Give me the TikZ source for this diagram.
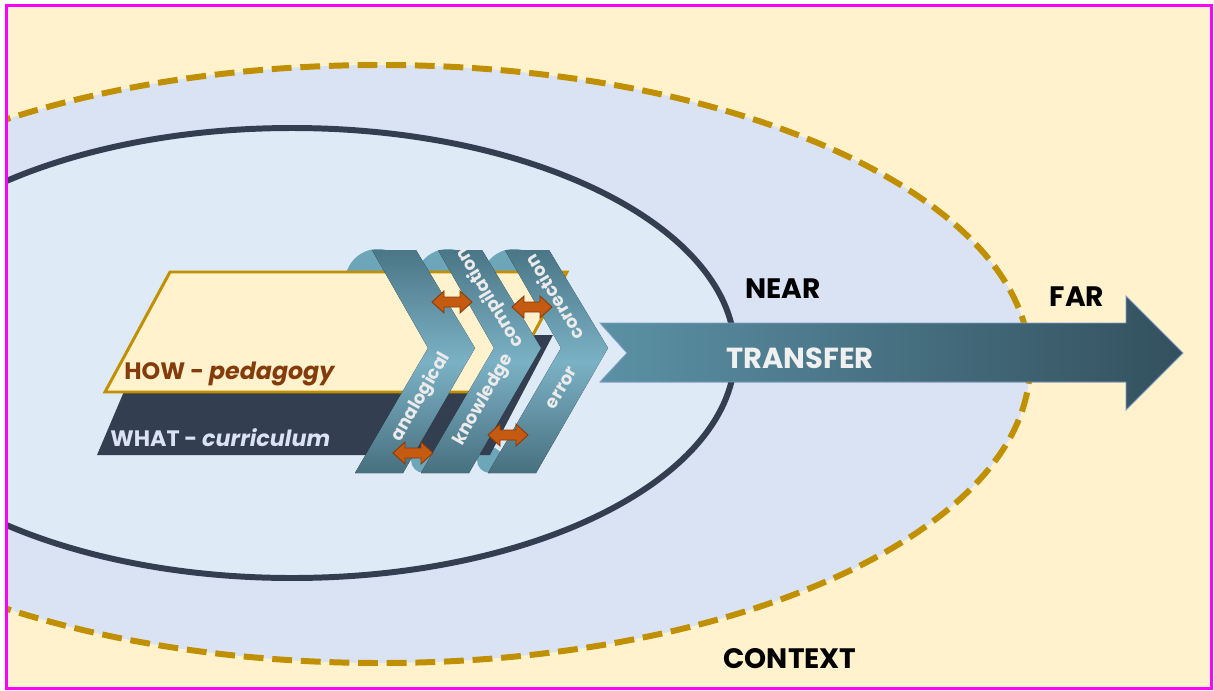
\documentclass[tikz,border=0pt]{standalone}
\usepackage{fontspec}
\setmainfont{Poppins}
\definecolor{cream}{HTML}{FFF2CC}
\definecolor{outerblue}{HTML}{DAE3F3}
\definecolor{innerblue}{HTML}{DEEAF6}
\definecolor{gold}{HTML}{C09000}
\definecolor{navy}{HTML}{333F50}
\definecolor{frame}{HTML}{FF00FF}
\definecolor{brownt}{HTML}{843C0C}
\definecolor{ltext}{HTML}{DAE3F3}
\definecolor{chevtop}{HTML}{4A7686}
\definecolor{chevmid}{HTML}{7BB1C5}
\definecolor{chevbot}{HTML}{48707F}
\definecolor{bump}{HTML}{6DA5B9}
\definecolor{orangea}{HTML}{C55A11}
\definecolor{orangeb}{HTML}{8A3A08}
\definecolor{trleft}{HTML}{5B91A5}
\definecolor{trright}{HTML}{33505E}
\definecolor{trline}{HTML}{7F9FC8}
\tikzset{
  chevron/.style={top color=chevtop, bottom color=chevbot, middle color=chevmid, draw=none},
  bumpc/.style={fill=bump, draw=none},
  chevlabel/.style={text=white!92!black, font=\bfseries\fontsize{10.2}{10.2}\selectfont, inner sep=0pt},
  biglabel/.style={text=black, font=\bfseries\fontsize{16}{16}\selectfont, inner sep=0pt},
  darrow/.pic={\filldraw[fill=orangea, draw=orangeb, line width=0.5pt]
     (-20,0) -- (-8,-11) -- (-8,-5) -- (8,-5) -- (8,-11) -- (20,0) -- (8,11) -- (8,5) -- (-8,5) -- (-8,11) -- cycle;}
}
\begin{document}
\begin{tikzpicture}[x=0.02cm,y=-0.02cm]
\useasboundingbox (0,0) rectangle (1214,690);
\fill[white] (0,0) rectangle (1214,690);
\fill[cream] (6.5,5.5) rectangle (1211.5,688.5);
\begin{scope}
  \clip (6.5,5.5) rectangle (1211.5,688.5);
  \fill[outerblue] (380,364) ellipse [x radius=650, y radius=299];
  \draw[gold, line width=3.4pt, dash pattern=on 11.3pt off 5pt] (380,364) ellipse [x radius=650, y radius=299];
  \filldraw[fill=innerblue, draw=navy, line width=3.4pt] (292,353) ellipse [x radius=443, y radius=225];
\end{scope}
\draw[frame, line width=1.7pt] (6.5,5.5) rectangle (1211.5,688.5);

% bumps behind chevrons
\fill[bumpc] (378,282) circle [radius=33];
\fill[bumpc] (448,282) circle [radius=33];
\fill[bumpc] (514,282) circle [radius=33];
\fill[bumpc] (424,460) circle [radius=13];
\fill[bumpc] (490,460) circle [radius=13];

% WHAT and HOW bands
\fill[navy] (148,335) -- (553,335) -- (490,455) -- (97,455) -- cycle;
\filldraw[fill=cream, draw=gold, line width=1.7pt] (170,272) -- (567,272) -- (502,392) -- (105,392) -- cycle;
\node[anchor=west, text=brownt, font=\bfseries\fontsize{13.5}{13.5}\selectfont, inner sep=0pt] (how) at (124,374) {HOW - \textit{pedagogy}};
\node[anchor=west, text=ltext, font=\bfseries\fontsize{12.7}{12.7}\selectfont, inner sep=0pt] (what) at (110,438) {WHAT - \textit{curriculum}};

% chevrons
\foreach \xo in {372,438,505}{
  \fill[chevron] (\xo,250) -- ({\xo+44},250) -- ({\xo+103},348) -- ({\xo+31},473) -- ({\xo-17},473) -- ({\xo+56},348) -- cycle;
}

% chevron labels
\node[chevlabel, rotate=60] (analog) at (421,397) {analogical};
\node[chevlabel, rotate=60] (knowl) at (484,400) {knowledge};
\node[chevlabel, rotate=121] (compil) at (490,298) {compilation};
\node[chevlabel, rotate=60] (err) at (562,388) {error};
\node[chevlabel, rotate=121] (corr) at (554,298) {correction};

% orange double arrows
\pic at (452,302) {darrow};
\pic at (532,307) {darrow};
\pic at (508,435) {darrow};
\pic at (413,453) {darrow};

% transfer arrow
\filldraw[left color=trleft, right color=trright, draw=trline, line width=0.5pt]
  (600,323) -- (1126,323) -- (1126,296) -- (1183,353) -- (1126,410) -- (1126,382) -- (600,382) -- (627,353) -- cycle;
\node[text=white!94!black, font=\bfseries\fontsize{16.5}{16.5}\selectfont, inner sep=0pt] (transfer) at (800,358) {TRANSFER};

\node[biglabel] (near) at (783,289) {NEAR};
\node[biglabel] (far) at (1077,297) {FAR};
\node[biglabel] (context) at (790,659) {CONTEXT};
\end{tikzpicture}
\end{document}
